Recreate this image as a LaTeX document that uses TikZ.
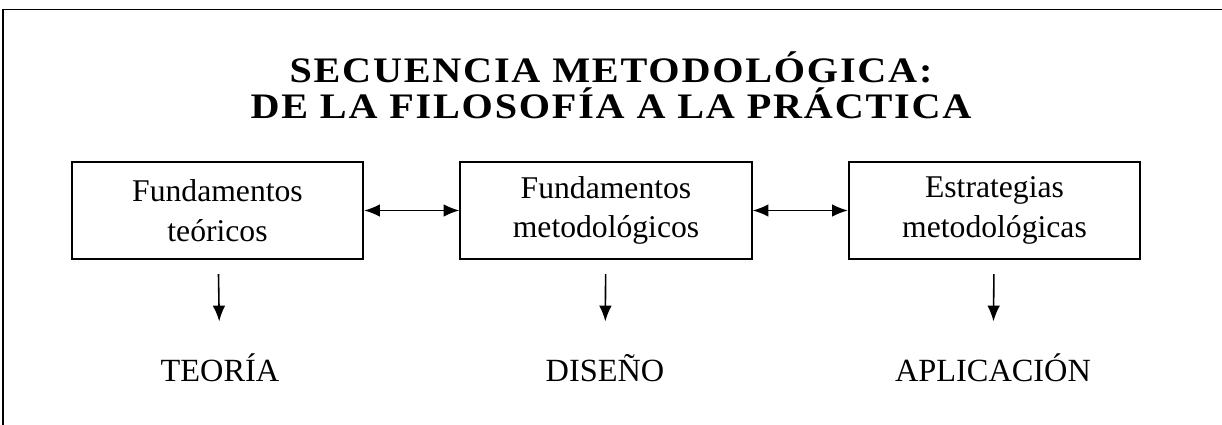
\documentclass[tikz,border=0pt]{standalone}
\usepackage{fontspec}
\setmainfont{Liberation Serif}
\newfontfamily\titlefont{Liberation Serif}[LetterSpace=5,FakeStretch=1.12]
\usepackage{tikz}
\usetikzlibrary{arrows.meta}

\begin{document}
\begin{tikzpicture}[x=0.01cm,y=-0.01cm]

\tikzset{titulo/.style = {font=\titlefont\bfseries\fontsize{10.2}{10.2}\selectfont, anchor=base, inner sep=0}}
\tikzset{caja/.style = {shape=rectangle,draw,line width=0.6pt,minimum width=2.91cm,minimum height=0.97cm,
  align=center,font=\fontsize{9}{11.3}\selectfont}}
\tikzset{etapa/.style = {font=\fontsize{9.2}{9.2}\selectfont, anchor=base, inner sep=0, text height=6.5pt}}
\tikzset{edge/.style = {->,> = {Latex[length=4.5pt,width=3.6pt]},line width=0.45pt}}
\useasboundingbox (0,0) rectangle (1222,425);

% marco
\draw[line width=0.5pt] (3,425) -- (3,9.5) -- (1222,9.5);

% titulo
\node[titulo] (t1) at (611,83) {SECUENCIA METODOLÓGICA:};
\node[titulo] (t2) at (611,119) {DE LA FILOSOFÍA A LA PRÁCTICA};

% cajas
\node[caja] (teo) at  (217.5,210.5) {Fundamentos\\teóricos};
\node[caja] (met) at  (606,210.5) {Fundamentos\\metodológicos};
\node[caja] (est) at  (994.5,210.5) {Estrategias\\metodológicas};

% etapas
\node[etapa] (teoria) at (220,382) {TEORÍA};
\node[etapa] (diseno) at (605,382) {DISEÑO};
\node[etapa] (aplic) at (993,382) {APLICACIÓN};

\draw[edge,<->] (teo) to (met);
\draw[edge,<->] (met) to (est);
\draw[edge,shorten <=0.14cm,shorten >=0.37cm] (teo) to (teoria);
\draw[edge,shorten <=0.14cm,shorten >=0.37cm] (met) to (diseno);
\draw[edge,shorten <=0.14cm,shorten >=0.37cm] (est) to (aplic);
\end{tikzpicture}
\end{document}
